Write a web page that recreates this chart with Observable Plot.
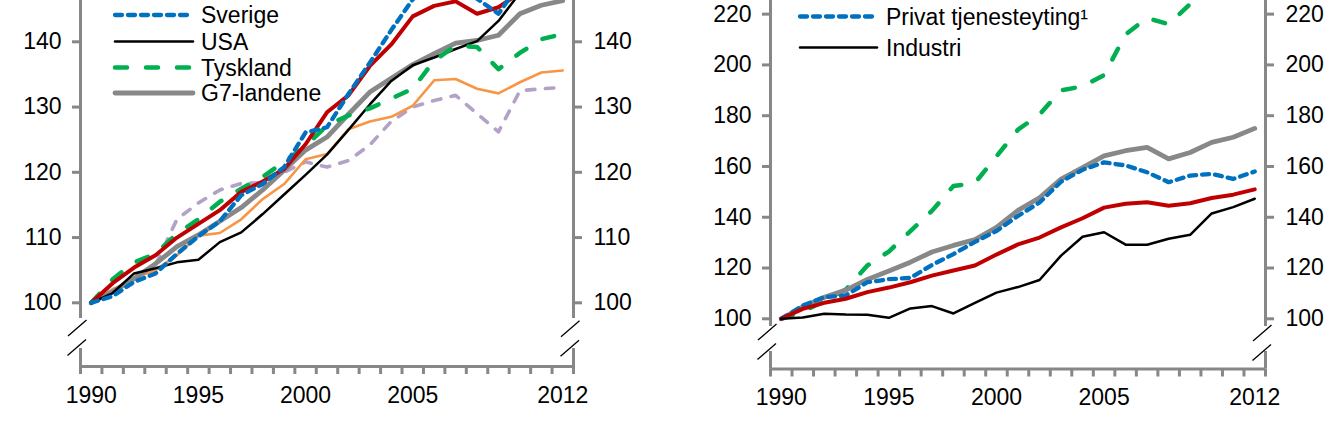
<!DOCTYPE html>
<html><head><meta charset="utf-8">
<script src="https://cdn.jsdelivr.net/npm/d3@7"></script>
<script src="https://cdn.jsdelivr.net/npm/@observablehq/plot@0.6"></script>
<style>
html,body{margin:0;padding:0;background:#fff;}
#wrap{display:flex;width:1344px;height:431px;overflow:hidden;}
#wrap > div{flex:none;}
</style></head><body><div id="wrap"><div id="left"></div><div id="right"></div></div>
<script>
// ---------- data ----------
const years = [1990,1991,1992,1993,1994,1995,1996,1997,1998,1999,2000,2001,2002,2003,2004,2005,2006,2007,2008,2009,2010,2011,2012];
const xTickLabels = [1990, 1995, 2000, 2005, 2012];
const leftYTicks = [100, 110, 120, 130, 140];
const rightYTicks = [100, 120, 140, 160, 180, 200, 220];

// Left panel
const norge     = [100,103,105.4,107.3,110,112.1,114.2,117,118.6,120.5,124.3,129.2,131.8,136.3,139.6,143.9,145.5,146.2,144.3,145.3,147.5,149.5,151];
const sverige   = [100,101,103.2,104.5,107.5,110.2,112.5,116.5,118.2,120.8,126.1,126.9,132,136.8,141.8,146.5,149,150,146.6,144.3,149,150,151];
const usa       = [100,101.5,104.5,105.3,106.2,106.6,109.3,110.8,113.6,116.6,119.6,122.7,126.5,130.4,134,136.4,137.6,138.9,140.1,143.2,147.5,150,152];
const tyskland  = [100,103.6,106.2,107.5,110.6,112.8,115.5,117.5,119.3,121.6,124,127.2,128.7,129.8,131.3,132.8,137.1,139.4,139.2,135.8,138.3,140.4,141.2];
const g7        = [100,101.7,103.7,106,108.6,110.4,112.5,114.6,117.3,120.3,123.4,125.4,128.9,132.3,134.4,136.5,138.2,139.8,140.2,141,144.3,145.6,146.3];
const orangeSer = [100,102,103.8,105,107.3,110.3,110.7,112.8,115.9,118.2,122,122.8,126.6,127.8,128.5,130.2,134.1,134.3,132.8,132.1,133.8,135.3,135.6];
const lavendSer = [100,102,103.8,105.8,112.8,115.3,117.3,118.3,118.4,120,121.6,120.8,121.8,124.2,127.8,130,131,131.8,129,126.2,132.5,132.8,133];

// Right panel
const greenR    = [100,102.8,107,111.5,121,126.5,134.5,142.5,152.3,153.5,164,174.5,180.5,190,191.5,196,212,218.5,216,224,232,238,244];
const greyR     = [100,104.7,108.5,111.3,115.5,118.8,122.3,126.3,128.9,131.2,136,142.7,147.7,155,159.5,164.2,166.2,167.5,163,165.5,169.5,171.5,175];
const privat    = [100,105.2,108.5,109.2,114.4,115.6,116.1,121.2,125.5,130.3,134.6,140.5,145.8,154,158.7,161.6,160.4,157.7,153.8,156.4,157.1,155.1,158];
const redR      = [100,103.9,106.3,107.9,110.5,112.3,114.4,117,119,121,125.3,129.3,132,136,139.6,143.8,145.3,145.9,144.5,145.5,147.6,148.9,151];
const industri  = [100,100.5,102,101.7,101.6,100.4,104.1,105,102.1,106.3,110.3,112.5,115.3,124.9,132.3,134.1,129.2,129.2,131.5,133.1,141.5,144,147.3];

// ---------- styles ----------
const FONT = "'Liberation Sans', Arial, Helvetica, sans-serif";
const GREY = "#878787";
const ST = {
  red:      {stroke:"#C00000", width:4},
  blue:     {stroke:"#0070C0", width:4.3, dash:"7,6"},
  black:    {stroke:"#000000", width:2.5},
  green:    {stroke:"#00B050", width:4.5, dash:"12,19"},
  grey:     {stroke:"#888888", width:4.8},
  orange:   {stroke:"#F79646", width:2.6},
  lavender: {stroke:"#B3A2C7", width:3.6, dash:"8.5,10.5"}
};

function makePanel(o) {
  const H = 431;
  const [d0, d1] = o.yDomain;
  const inv = px => d0 + (d1 - d0) * (o.bottomPx - px) / o.bottomPx;
  const xL = years[0] - 0.5, xR = years[years.length - 1] + 0.5;
  const bounds = years.map(y => y - 0.5).concat([xR]);
  const marks = [
    Plot.ruleY([d0], {stroke: GREY, strokeWidth: 3}),
    Plot.ruleX([xL, xR], {y1: inv(o.gap[0]), y2: d1, stroke: GREY, strokeWidth: 3}),
    Plot.ruleX([xL, xR], {y1: d0, y2: inv(o.gap[1]), stroke: GREY, strokeWidth: 3}),
    Plot.axisY(o.yTicks, {anchor: "left", tickSize: 8, tickPadding: 11, stroke: GREY, strokeWidth: 3, fontSize: 23, tickFormat: "d", label: null}),
    Plot.axisY(o.yTicks, {anchor: "right", tickSize: 8, tickPadding: 12, stroke: GREY, strokeWidth: 3, fontSize: 23, tickFormat: "d", label: null}),
    Plot.axisX(bounds, {anchor: "bottom", tickSize: 8, tickFormat: () => "", stroke: GREY, strokeWidth: 3, label: null}),
    Plot.axisX(xTickLabels, {anchor: "bottom", tickSize: 0, tickPadding: 20, fontSize: 23, tickFormat: "d", label: null})
  ];
  for (const s of o.series) {
    const st = ST[s.style];
    marks.push(Plot.line(years.map((y, i) => ({year: y, v: s.values[i]})), {
      x: "year", y: "v", stroke: st.stroke, strokeWidth: st.width,
      strokeDasharray: st.dash, strokeLinecap: "round", strokeLinejoin: "round", clip: true
    }));
  }
  const plot = Plot.plot({
    width: o.width, height: H,
    marginLeft: o.marginLeft, marginRight: o.marginRight, marginTop: 0, marginBottom: H - o.bottomPx,
    x: {domain: [xL, xR], label: null},
    y: {domain: o.yDomain, label: null},
    style: {fontFamily: FONT, fontSize: "23px", color: "black", background: "white"},
    marks
  });
  const svg = d3.select(plot);
  const xs = plot.scale("x");
  // axis break slashes
  const g = svg.append("g").attr("stroke", "black").attr("stroke-width", 1.3);
  [[xL, o.slashTop[0]], [xR, o.slashTop[1]]].forEach(([xv, yA]) => {
    const px = xs.apply(xv);
    g.append("line").attr("x1", px - 12).attr("y1", yA + 16).attr("x2", px + 6.5).attr("y2", yA);
    g.append("line").attr("x1", px - 12.5).attr("y1", yA + 35.5).attr("x2", px + 6).attr("y2", yA + 19.5);
  });
  // legend
  const lg = svg.append("g").attr("text-anchor", "start");
  for (const it of o.legend) {
    const st = ST[it.style];
    lg.append("line").attr("x1", it.x1 - o.offset).attr("x2", it.x2 - o.offset)
      .attr("y1", it.y).attr("y2", it.y)
      .attr("stroke", st.stroke).attr("stroke-width", st.width)
      .attr("stroke-dasharray", st.dash || null).attr("stroke-linecap", "round");
    lg.append("text").attr("x", it.tx - o.offset).attr("y", it.y).attr("dy", "0.36em")
      .attr("text-anchor", "start")
      .attr("font-family", FONT).attr("font-size", 23).attr("fill", "black").text(it.name);
  }
  return plot;
}

const left = makePanel({
  width: 672, marginLeft: 80, marginRight: 99, bottomPx: 366,
  yDomain: [90.24, 146.33], yTicks: leftYTicks, gap: [318, 348], slashTop: [320, 320.7], offset: 0,
  series: [
    {values: lavendSer, style: "lavender"},
    {values: orangeSer, style: "orange"},
    {values: g7, style: "grey"},
    {values: usa, style: "black"},
    {values: tyskland, style: "green"},
    {values: norge, style: "red"},
    {values: sverige, style: "blue"}
  ],
  legend: [
    {name: "Sverige", style: "blue", y: 15, x1: 115, x2: 193, tx: 201},
    {name: "USA", style: "black", y: 41.5, x1: 115, x2: 193, tx: 201},
    {name: "Tyskland", style: "green", y: 67.5, x1: 115, x2: 193, tx: 201},
    {name: "G7-landene", style: "grey", y: 93, x1: 115, x2: 193, tx: 201}
  ]
});

const right = makePanel({
  width: 672, marginLeft: 98, marginRight: 79, bottomPx: 368.5,
  yDomain: [80.23, 225.37], yTicks: rightYTicks, gap: [326, 351], slashTop: [324, 325], offset: 672,
  series: [
    {values: greenR, style: "green"},
    {values: greyR, style: "grey"},
    {values: privat, style: "blue"},
    {values: redR, style: "red"},
    {values: industri, style: "black"}
  ],
  legend: [
    {name: "Privat tjenesteyting\u00B9", style: "blue", y: 16.5, x1: 800, x2: 877, tx: 886},
    {name: "Industri", style: "black", y: 47.5, x1: 800, x2: 877, tx: 886}
  ]
});

document.getElementById("left").appendChild(left);
document.getElementById("right").appendChild(right);
</script>
</body></html>
